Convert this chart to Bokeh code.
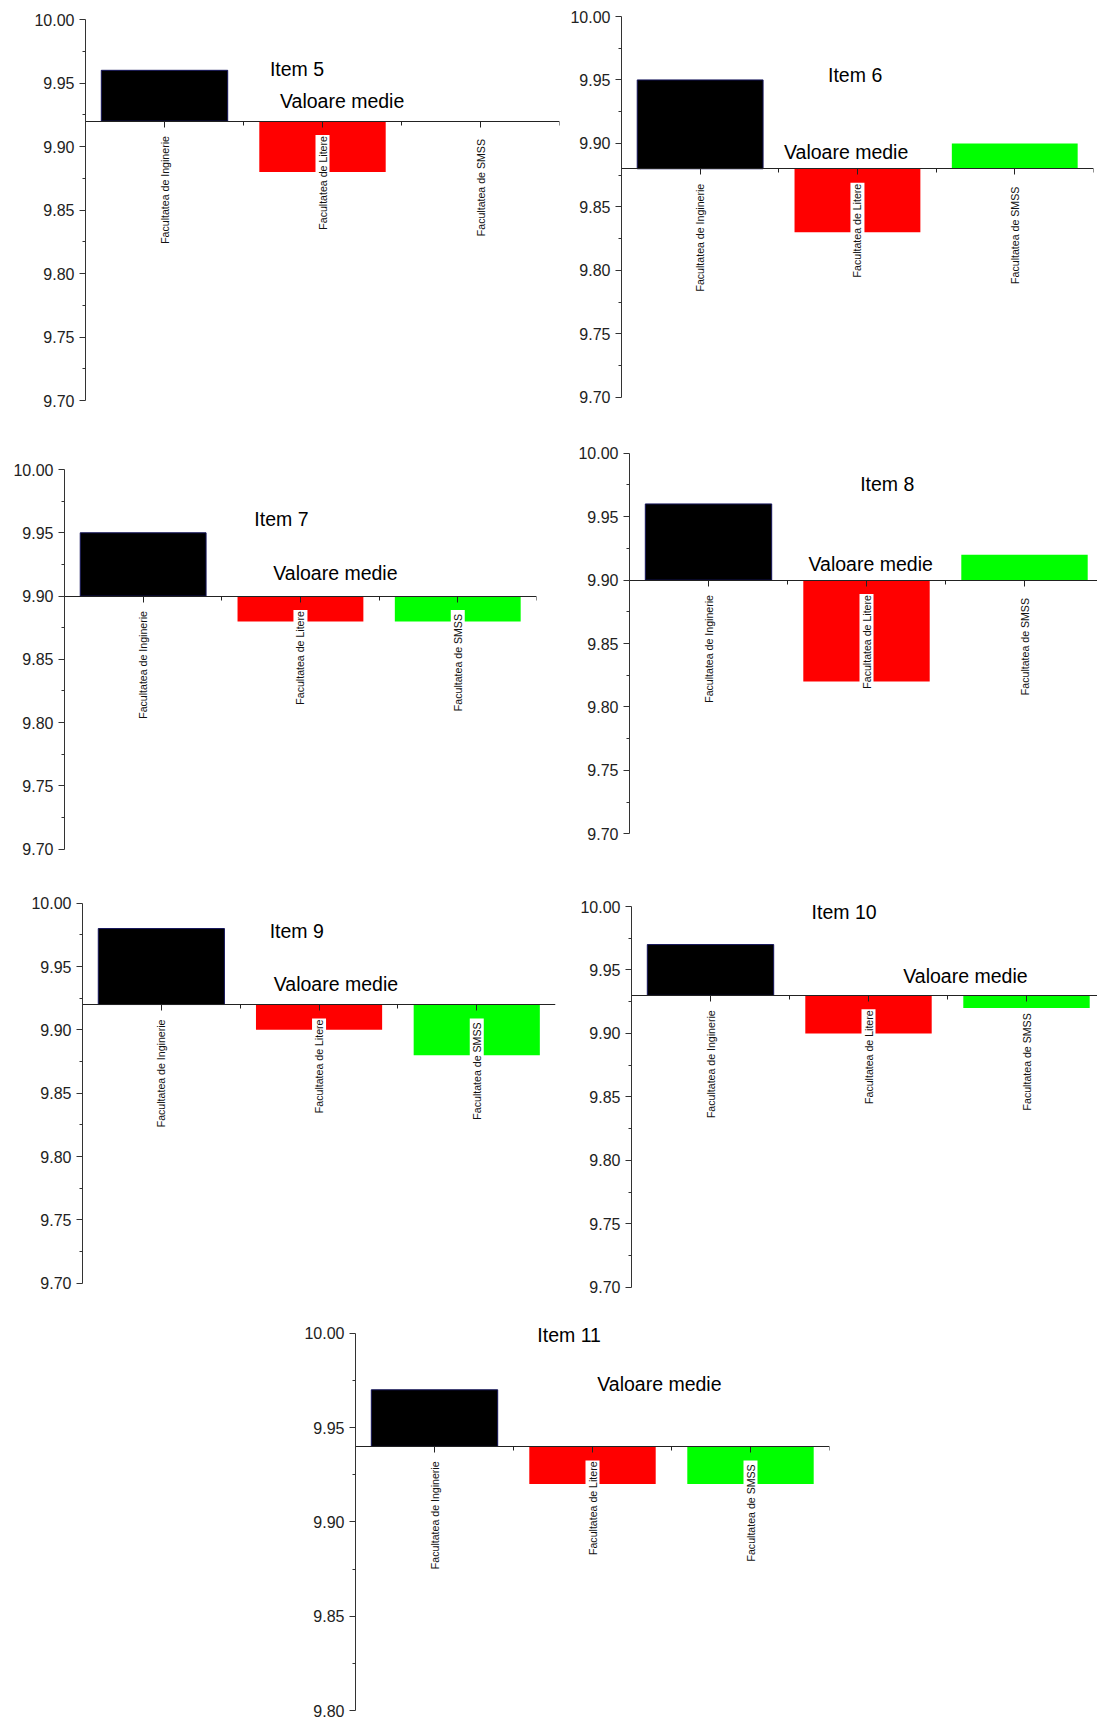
from math import pi
from bokeh.plotting import figure
from bokeh.models import Range1d, FixedTicker, NumeralTickFormatter, Label, LinearAxis, ColumnDataSource
from bokeh.models.glyphs import Text
from bokeh.core.properties import value
from bokeh.layouts import row, column
from bokeh.embed import file_html
from bokeh.resources import INLINE

# ---------------- data ----------------
categories = ["Facultatea de Inginerie", "Facultatea de Litere", "Facultatea  de SMSS"]
item_titles = ["Item 5", "Item 6", "Item 7", "Item 8", "Item 9", "Item 10", "Item 11"]
valoare_medie = [9.92, 9.88, 9.90, 9.90, 9.92, 9.93, 9.94]
inginerie = [9.96, 9.95, 9.95, 9.96, 9.98, 9.97, 9.97]
litere = [9.88, 9.83, 9.88, 9.82, 9.90, 9.90, 9.92]
smss = [9.92, 9.90, 9.88, 9.92, 9.88, 9.92, 9.92]
y_min = [9.70, 9.70, 9.70, 9.70, 9.70, 9.70, 9.80]
y_max = [10.00] * 7
y_ticks_full = [9.70, 9.75, 9.80, 9.85, 9.90, 9.95, 10.00]
y_minor_full = [9.725, 9.775, 9.825, 9.875, 9.925, 9.975]
mean_label = "Valoare medie"

# ---------------- styles / layout ----------------
bar_colors = ["#000000", "#ff0000", "#00ff00"]
bar_lines = ["#14145a", None, None]
FONT = "Liberation Sans"

# horizontal: (width, min_border_left, frame_width, pixels per category)
hgeom = [(566, 85, 474, 158.0), (531, 55, 472, 157.3), (566, 64, 472, 157.3),
         (531, 63, 468, 158.0), (566, 82, 473, 157.7), (531, 65, 466, 158.0),
         (839, 355, 474, 158.0)]
# vertical per row: (row_top, height, frame_top, frame_bottom)
rows_v = [(0, 436, 8, 412), (436, 454, 444, 860), (890, 428, 895, 1296), (1318, 400, 1322, 1710)]
panel_row = [0, 0, 1, 1, 2, 2, 3]
# page pixel position of y_max / y_min value of each panel
ypix = [(19, 400), (16, 396.7), (469, 848.7), (452.7, 833.3),
        (902.7, 1282.7), (906, 1286.7), (1332.7, 1710)]

title_pos = [(1.167, 9.961), (1.313, 9.954), (1.207, 9.961), (1.46, 9.976),
             (1.187, 9.978), (1.14, 9.996), (1.151, 9.999)]
mean_pos = [(1.231, 9.936), (1.033, 9.893), (1.327, 9.918), (1.133, 9.913),
            (1.213, 9.936), (1.72, 9.945), (1.530, 9.973)]

text_has_bg = "background_fill_color" in Text().properties()


def make_panel(i):
    w, mbl, fw, unit = hgeom[i]
    r_top, h, f_top, f_bot = rows_v[panel_row[i]]
    T = f_top - r_top
    B = f_bot - r_top
    top_px, bot_px = ypix[i][0] - r_top, ypix[i][1] - r_top
    s = (y_max[i] - y_min[i]) / (bot_px - top_px)
    r_end = y_max[i] + (top_px - T) * s
    r_start = y_min[i] - (B - bot_px) * s

    ncat = len(categories)
    xs = [k + 0.5 for k in range(ncat)]
    p = figure(width=w, height=h, output_backend="svg", toolbar_location=None,
               x_range=Range1d(0, fw / unit), y_range=Range1d(r_start, r_end),
               x_axis_type=None, y_axis_type=None,
               min_border_left=mbl, min_border_right=w - mbl - fw,
               min_border_top=T, min_border_bottom=h - B)
    p.outline_line_color = None
    p.background_fill_color = "white"
    p.border_fill_color = "white"

    src = ColumnDataSource(dict(x=xs, top=[inginerie[i], litere[i], smss[i]],
                                fill=bar_colors, line=bar_lines,
                                base=[valoare_medie[i]] * ncat, label=categories))
    p.vbar(x="x", top="top", bottom="base", width=0.8, source=src,
           fill_color="fill", line_color="line", line_width=1)

    kw = dict(x="x", y="base", text="label", angle=pi / 2, text_align="right",
              text_baseline="middle", y_offset=14, text_font=value(FONT),
              text_font_size=value("10.6px"), text_color="#111111", source=src)
    if text_has_bg:
        kw.update(background_fill_color="white", padding=1)
    p.text(**kw)

    yt = [t for t in y_ticks_full if t >= y_min[i] - 1e-9]
    ym = [t for t in y_minor_full if t >= y_min[i] - 1e-9]
    yax = LinearAxis(ticker=FixedTicker(ticks=yt, minor_ticks=ym),
                     formatter=NumeralTickFormatter(format="0.00"),
                     bounds=(y_min[i], y_max[i]),
                     major_tick_out=6, major_tick_in=0,
                     minor_tick_out=3, minor_tick_in=0,
                     major_label_standoff=5,
                     major_label_text_font=FONT,
                     major_label_text_font_size="16px",
                     major_label_text_color="#222222",
                     axis_line_color="#333333", major_tick_line_color="#333333",
                     minor_tick_line_color="#333333")
    p.add_layout(yax, "left")

    xax = LinearAxis(ticker=FixedTicker(ticks=xs, minor_ticks=list(range(ncat + 1))),
                     major_label_overrides={x: "" for x in xs},
                     fixed_location=valoare_medie[i],
                     major_tick_out=6, major_tick_in=0,
                     minor_tick_out=4, minor_tick_in=0,
                     axis_line_color="#222222", axis_line_width=1.2,
                     major_tick_line_color="#222222", minor_tick_line_color="#222222")
    p.add_layout(xax, "below")

    tx, ty = title_pos[i]
    p.add_layout(Label(x=tx, y=ty, text=item_titles[i], text_font=FONT,
                       text_font_size="19.5px", text_align="left",
                       text_baseline="middle", text_color="black"))
    mx, my = mean_pos[i]
    p.add_layout(Label(x=mx, y=my, text=mean_label, text_font=FONT,
                       text_font_size="19.5px", text_align="left",
                       text_baseline="middle", text_color="black"))
    return p


panels = [make_panel(i) for i in range(len(item_titles))]
layout = column(row(panels[0], panels[1]), row(panels[2], panels[3]),
                row(panels[4], panels[5]), row(panels[6]))

open("out.html", "w").write(file_html(layout, INLINE))
